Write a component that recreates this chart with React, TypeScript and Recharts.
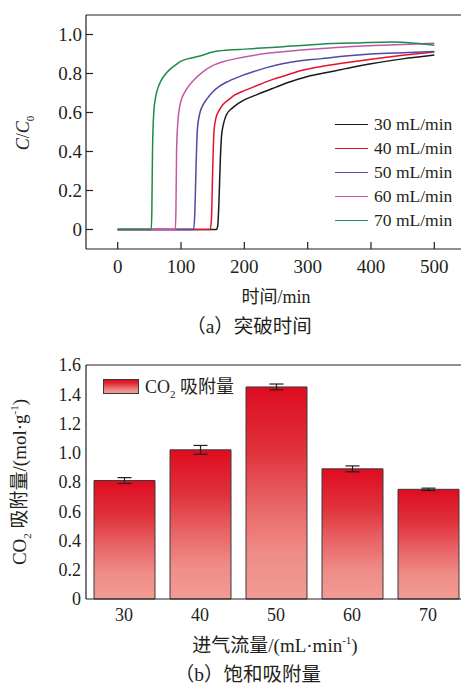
import React from "react";
import {
  LineChart,
  Line,
  XAxis,
  YAxis,
  ReferenceLine,
  Legend,
  BarChart,
  Bar,
  ErrorBar,
} from "recharts";

const FONT = '"Liberation Serif", "Noto Sans CJK SC", serif';
const INK = "#231f20";

// (a) breakthrough curves: C/C0 against time, one pair of arrays per flow rate
const flowLabels = ["30 mL/min", "40 mL/min", "50 mL/min", "60 mL/min", "70 mL/min"];
const lineColors = ["#1a1a1a", "#e5122b", "#4e4aa6", "#c558a6", "#1d8a4f"];

const t30 = [0, 156, 158, 160, 162, 164, 167, 172, 180, 190, 200, 215, 230, 250, 270, 300, 330, 360, 400, 450, 500];
const c30 = [0, 0, 0.02, 0.15, 0.35, 0.48, 0.54, 0.59, 0.62, 0.645, 0.665, 0.685, 0.705, 0.73, 0.755, 0.785, 0.805, 0.825, 0.85, 0.875, 0.895];

const t40 = [0, 146, 148, 150, 152, 155, 160, 166, 175, 185, 195, 210, 225, 245, 265, 290, 320, 360, 400, 450, 500];
const c40 = [0, 0, 0.05, 0.3, 0.5, 0.57, 0.61, 0.64, 0.665, 0.69, 0.705, 0.725, 0.745, 0.77, 0.79, 0.815, 0.835, 0.855, 0.873, 0.893, 0.91];

const t50 = [0, 120, 122, 124, 126, 130, 135, 141, 150, 161, 175, 193, 215, 235, 260, 288, 320, 360, 400, 450, 500];
const c50 = [0, 0, 0.1, 0.35, 0.52, 0.6, 0.64, 0.67, 0.705, 0.735, 0.76, 0.785, 0.81, 0.83, 0.85, 0.865, 0.875, 0.89, 0.9, 0.907, 0.913];

const t60 = [0, 91, 92, 93, 95, 98, 101, 106, 111, 120, 135, 150, 166, 185, 209, 240, 288, 330, 380, 440, 500];
const c60 = [0, 0, 0.1, 0.4, 0.55, 0.63, 0.67, 0.705, 0.73, 0.765, 0.81, 0.84, 0.86, 0.875, 0.89, 0.905, 0.92, 0.93, 0.94, 0.947, 0.955];

const t70 = [0, 53, 54, 55, 57, 60, 63, 68, 75, 82, 90, 98, 110, 130, 150, 175, 200, 250, 320, 380, 435, 470, 500];
const c70 = [0, 0, 0.1, 0.4, 0.6, 0.68, 0.72, 0.76, 0.795, 0.82, 0.84, 0.86, 0.875, 0.89, 0.91, 0.92, 0.925, 0.935, 0.95, 0.957, 0.962, 0.955, 0.945];

const curveTimes = [t30, t40, t50, t60, t70];
const curveValues = [c30, c40, c50, c60, c70];

const timeTicks = [0, 100, 200, 300, 400, 500];
const ratioTicks = [0, 0.2, 0.4, 0.6, 0.8, 1.0];

// (b) saturated CO2 uptake per feed flow rate
const flowRates = ["30", "40", "50", "60", "70"];
const uptake = [0.81, 1.02, 1.45, 0.89, 0.75];
const uptakeErr = [0.02, 0.03, 0.02, 0.02, 0.008];
const uptakeTicks = [0, 0.2, 0.4, 0.6, 0.8, 1.0, 1.2, 1.4, 1.6];

const curves = flowLabels.map((name, i) => ({
  name,
  color: lineColors[i],
  data: curveTimes[i].map((t, j) => ({ t, c: curveValues[i][j] })),
}));

const barData = flowRates.map((flow, i) => ({
  flow,
  uptake: uptake[i],
  err: uptakeErr[i],
}));

const fmt = (v: number) => (v === 0 ? "0" : v.toFixed(1));

function TimeTick({ x, y, payload }: any) {
  return (
    <g>
      <line x1={x} x2={x} y1={y} y2={y - 7} stroke={INK} strokeWidth={1.2} />
      <text x={x} y={y + 24} textAnchor="middle" fontSize={19} fill={INK} fontFamily={FONT}>
        {payload.value}
      </text>
    </g>
  );
}

function RatioTick({ x, y, payload }: any) {
  return (
    <g>
      <line x1={x} x2={x + 7} y1={y} y2={y} stroke={INK} strokeWidth={1.2} />
      <text x={x - 4} y={y} dy="0.35em" textAnchor="end" fontSize={19} fill={INK} fontFamily={FONT}>
        {fmt(payload.value)}
      </text>
    </g>
  );
}

function FlowTick({ x, y, payload }: any) {
  return (
    <text x={x} y={y + 22} textAnchor="middle" fontSize={18} fill={INK} fontFamily={FONT}>
      {payload.value}
    </text>
  );
}

function UptakeTick({ x, y, payload }: any) {
  return (
    <text x={x - 5} y={y} dy="0.35em" textAnchor="end" fontSize={18} fill={INK} fontFamily={FONT}>
      {fmt(payload.value)}
    </text>
  );
}

const textAt = (left: number, top: number, size: number, rotate = false): React.CSSProperties => ({
  position: "absolute",
  left,
  top,
  fontSize: size,
  fontFamily: FONT,
  color: INK,
  whiteSpace: "nowrap",
  lineHeight: 1,
  transform: `translate(-50%, -50%)${rotate ? " rotate(-90deg)" : ""}`,
});

const barGradient = "linear-gradient(to bottom, #de0c20 0%, #e0323b 30%, #e86466 55%, #ef8c87 78%, #f29b94 100%)";

export default function App() {
  return (
    <div
      style={{
        position: "fixed",
        left: 0,
        top: 0,
        width: 461,
        height: 686,
        overflow: "hidden",
        background: "#fff",
        fontFamily: FONT,
      }}
    >
      <div style={{ position: "absolute", left: 0, top: 0 }}>
        <LineChart width={470} height={300} margin={{ top: 15, right: 4, bottom: 0, left: 0 }}>
          <XAxis
            dataKey="t"
            type="number"
            domain={[-50, 550]}
            ticks={timeTicks}
            allowDataOverflow
            height={51}
            tickSize={0}
            tickMargin={0}
            tick={<TimeTick />}
            axisLine={{ stroke: INK, strokeWidth: 1.2 }}
          />
          <YAxis
            type="number"
            domain={[-0.1, 1.1]}
            ticks={ratioTicks}
            allowDataOverflow
            width={86}
            tickSize={0}
            tickMargin={0}
            tick={<RatioTick />}
            axisLine={{ stroke: INK, strokeWidth: 1.2 }}
          />
          <ReferenceLine y={1.1} stroke={INK} strokeWidth={1.2} />
          {curves.map((c) => (
            <Line
              key={c.name}
              data={c.data}
              dataKey="c"
              name={c.name}
              type="monotone"
              stroke={c.color}
              strokeWidth={1.5}
              dot={false}
              isAnimationActive={false}
            />
          ))}
          <Legend
            layout="vertical"
            align="center"
            verticalAlign="middle"
            wrapperStyle={{ left: 335, top: 112, width: 130 }}
            content={() => (
              <div style={{ fontFamily: FONT }}>
                {curves.map((c) => (
                  <div key={c.name} style={{ display: "flex", alignItems: "center", height: 24 }}>
                    <span style={{ width: 33, height: 0, borderTop: `1.6px solid ${c.color}`, marginRight: 6 }} />
                    <span style={{ fontSize: 17.5, color: INK }}>{c.name}</span>
                  </div>
                ))}
              </div>
            )}
          />
        </LineChart>
      </div>

      <div style={textAt(25, 133, 18, true)}>
        <i>C</i>/<i>C</i>
        <sub style={{ fontSize: 11 }}>0</sub>
      </div>
      <div style={textAt(276, 297, 18)}>时间/min</div>
      <div style={textAt(249, 327, 19.5)}>（a）突破时间</div>

      <div style={{ position: "absolute", left: 0, top: 340 }}>
        <BarChart width={470} height={300} data={barData} margin={{ top: 25, right: 4, bottom: 0, left: 0 }}>
          <defs>
            <linearGradient id="uptakeFill" x1="0" y1="0" x2="0" y2="1">
              <stop offset="0%" stopColor="#de0c20" />
              <stop offset="30%" stopColor="#e0323b" />
              <stop offset="55%" stopColor="#e86466" />
              <stop offset="78%" stopColor="#ef8c87" />
              <stop offset="100%" stopColor="#f29b94" />
            </linearGradient>
          </defs>
          <XAxis
            dataKey="flow"
            height={41}
            tickSize={0}
            tickMargin={0}
            tick={<FlowTick />}
            axisLine={{ stroke: INK, strokeWidth: 1.2 }}
          />
          <YAxis
            type="number"
            domain={[0, 1.6]}
            ticks={uptakeTicks}
            width={86}
            tickSize={0}
            tickMargin={0}
            tick={<UptakeTick />}
            axisLine={{ stroke: INK, strokeWidth: 1.2 }}
          />
          <ReferenceLine y={1.6} stroke={INK} strokeWidth={1.2} />
          <Bar
            dataKey="uptake"
            name="CO2 吸附量"
            barSize={61}
            fill="url(#uptakeFill)"
            stroke="#3a3a3a"
            strokeWidth={1}
            isAnimationActive={false}
          >
            <ErrorBar dataKey="err" width={7} stroke={INK} strokeWidth={1.2} direction="y" />
          </Bar>
          <Legend
            layout="vertical"
            align="center"
            verticalAlign="middle"
            wrapperStyle={{ left: 103, top: 36, width: 200 }}
            content={() => (
              <div style={{ display: "flex", alignItems: "center", height: 20, fontFamily: FONT }}>
                <span
                  style={{
                    width: 34,
                    height: 13,
                    background: barGradient,
                    border: "1px solid #3a3a3a",
                    marginRight: 6,
                  }}
                />
                <span style={{ fontSize: 18, color: INK }}>
                  CO<sub style={{ fontSize: 11 }}>2</sub> 吸附量
                </span>
              </div>
            )}
          />
        </BarChart>
      </div>

      <div style={textAt(21, 482, 19, true)}>
        CO<sub style={{ fontSize: 11 }}>2</sub> 吸附量/(mol·g<sup style={{ fontSize: 11 }}>-1</sup>)
      </div>
      <div style={textAt(275, 645, 19)}>
        进气流量/(mL·min<sup style={{ fontSize: 11 }}>-1</sup>)
      </div>
      <div style={textAt(248, 675, 19.5)}>（b）饱和吸附量</div>
    </div>
  );
}
